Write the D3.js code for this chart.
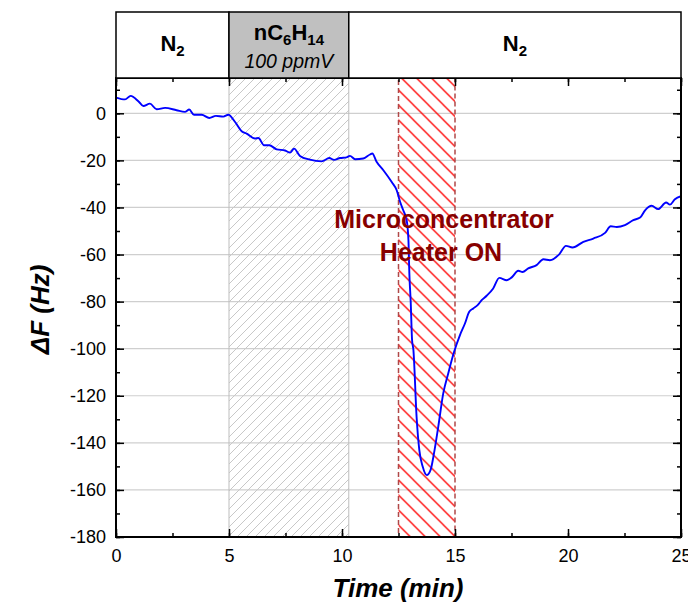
<!DOCTYPE html>
<html><head><meta charset="utf-8">
<script src="https://cdn.jsdelivr.net/npm/d3@7"></script>
<style>
body{margin:0;background:#fff;}
svg{display:block;font-family:Arial,"Liberation Sans",sans-serif;}
</style></head>
<body>
<svg id="chart" width="688" height="606"></svg>
<script>
// ---- data ----
const times = [
  0, 0.4, 0.65, 1.0, 1.21, 1.5, 1.8, 2.17, 2.68, 3.05,
  3.24, 3.45, 3.79, 4.13, 4.42, 4.75, 4.97, 5.27, 5.56, 5.78,
  6.15, 6.3, 6.55, 6.78, 7.11, 7.48, 7.7, 7.88, 8.14, 8.58,
  9.1, 9.44, 9.65, 9.91, 10.2, 10.35, 10.58, 10.94, 11.24, 11.34,
  11.53, 11.83, 12.2, 12.42, 12.57, 12.71, 12.86, 12.94, 12.98, 13.04,
  13.1, 13.16, 13.3, 13.42, 13.57, 13.75, 13.92, 14.07, 14.26, 14.48,
  14.7, 14.96, 15.22, 15.44, 15.63, 15.81, 16.0, 16.18, 16.4, 16.69,
  16.96, 17.29, 17.51, 17.8, 17.99, 18.24, 18.61, 18.91, 19.2, 19.62,
  19.91, 20.2, 20.68, 21.12, 21.64, 21.89, 22.16, 22.52, 22.89, 23.19,
  23.41, 23.7, 23.99, 24.34, 24.51, 24.73, 25.0
];
const deltaF = [
  6.7, 5.9, 7.4, 5.0, 3.1, 4.1, 1.7, 2.3, 1.3, 0.6,
  1.6, -0.6, -0.6, -2.0, -1.1, -1.4, -0.6, -3.7, -7.6, -8.6,
  -10.7, -10.5, -13.6, -13.6, -15.3, -15.8, -16.7, -15.0, -18.1, -19.7,
  -20.4, -19.0, -19.8, -19.0, -18.7, -18.1, -19.5, -19.2, -17.5, -17.1,
  -20.6, -24.2, -29.2, -32.7, -37.6, -41.2, -45.4, -53.9, -68, -80,
  -96.3, -100.6, -128.9, -143, -150.1, -153.7, -151.5, -144.5, -133.1, -119,
  -110.5, -101.3, -94.2, -89.3, -84.3, -82.9, -81.5, -79.4, -77.5, -74.4,
  -69.9, -70.9, -69.7, -66.9, -67.4, -65.9, -64.5, -62, -62.4, -59.8,
  -56.3, -57, -54.6, -53.2, -50.8, -48, -48.3, -47.5, -45.4, -44.3,
  -41.2, -39.3, -40.7, -37.9, -38.8, -36.5, -35.2
];
const xTicks = [0, 5, 10, 15, 20, 25];
const yTicks = [0, -20, -40, -60, -80, -100, -120, -140, -160, -180];
const phaseStarts = [0, 5, 10.3];
const phaseEnds = [5, 10.3, 25];
const heaterStart = 12.5, heaterEnd = 15;
const annotationLines = ["Microconcentrator", "Heater ON"];

// ---- layout ----
const svg = d3.select("#chart");
const L = 116, R = 681, T = 78, B = 537;
const x = d3.scaleLinear().domain([0, 25]).range([L, R]);
const y = d3.scaleLinear().domain([-180, 15]).range([B, T]);

const defs = svg.append("defs");
defs.append("clipPath").attr("id","clip").append("rect")
  .attr("x", L).attr("y", T).attr("width", R-L).attr("height", B-T);
const pg = defs.append("pattern").attr("id","hatchGray").attr("patternUnits","userSpaceOnUse")
  .attr("width", 9).attr("height", 9);
pg.append("path").attr("d","M-1,10 L10,-1 M-2,2 L2,-2 M7,11 L11,7")
  .attr("stroke","#c8c8c8").attr("stroke-width",1).attr("fill","none");
const pr = defs.append("pattern").attr("id","hatchRed").attr("patternUnits","userSpaceOnUse")
  .attr("width", 15).attr("height", 15).attr("x", x(heaterStart));
pr.append("path").attr("d","M-1,-1 L16,16 M-4,11 L4,19 M11,-4 L19,4")
  .attr("stroke","#ff0000").attr("stroke-width",1.3).attr("fill","none");

// gridlines
svg.append("g").selectAll("line").data(yTicks.filter(d => d > -180)).join("line")
  .attr("x1", L).attr("x2", R).attr("y1", d => y(d)).attr("y2", d => y(d))
  .attr("stroke","#cfcfcf").attr("stroke-width",1.2);

// exposure region (gray hatch)
svg.append("rect").attr("x", x(phaseStarts[1])).attr("y", T)
  .attr("width", x(phaseEnds[1]) - x(phaseStarts[1])).attr("height", B - T)
  .attr("fill","url(#hatchGray)").attr("stroke","#bdbdbd").attr("stroke-width",1);

// heater region (red hatch)
svg.append("rect").attr("x", x(heaterStart)).attr("y", T)
  .attr("width", x(heaterEnd) - x(heaterStart)).attr("height", B - T)
  .attr("fill","url(#hatchRed)").attr("stroke","#b04848").attr("stroke-width",1.5)
  .attr("stroke-dasharray","5,3");

// line
const line = d3.line().x(i => x(times[i])).y(i => y(deltaF[i])).curve(d3.curveMonotoneX);
svg.append("path").datum(d3.range(times.length))
  .attr("clip-path","url(#clip)")
  .attr("d", line).attr("fill","none").attr("stroke","#0000ff").attr("stroke-width",1.9);

// annotation
svg.append("text").attr("x", 444).attr("y", 228).attr("text-anchor","middle")
  .attr("font-size", 25).attr("font-weight","bold").attr("fill","#870000").text(annotationLines[0]);
svg.append("text").attr("x", 441).attr("y", 261).attr("text-anchor","middle")
  .attr("font-size", 25).attr("font-weight","bold").attr("fill","#870000").text(annotationLines[1]);

// axes
const fmt = d => d3.format("d")(d).replace("\u2212","-");
const xMinor = d3.range(0, 25.01, 2.5);
const yMinor = d3.range(-180, 15, 10);
const gB = svg.append("g").attr("transform",`translate(0,${B})`)
  .call(d3.axisBottom(x).tickValues(xMinor).tickSize(-4).tickFormat(""));
const gB2 = svg.append("g").attr("transform",`translate(0,${B})`)
  .call(d3.axisBottom(x).tickValues(xTicks).tickSize(-8).tickPadding(12).tickFormat(fmt));
const gT = svg.append("g").attr("transform",`translate(0,${T})`)
  .call(d3.axisTop(x).tickValues(xMinor).tickSize(-4).tickFormat(""));
const gT2 = svg.append("g").attr("transform",`translate(0,${T})`)
  .call(d3.axisTop(x).tickValues(xTicks).tickSize(-8).tickFormat(""));
const gL = svg.append("g").attr("transform",`translate(${L},0)`)
  .call(d3.axisLeft(y).tickValues(yMinor).tickSize(-4).tickFormat(""));
const gL2 = svg.append("g").attr("transform",`translate(${L},0)`)
  .call(d3.axisLeft(y).tickValues(yTicks).tickSize(-8).tickPadding(10).tickFormat(fmt));
const gR = svg.append("g").attr("transform",`translate(${R},0)`)
  .call(d3.axisRight(y).tickValues(yMinor).tickSize(-4).tickFormat(""));
const gR2 = svg.append("g").attr("transform",`translate(${R},0)`)
  .call(d3.axisRight(y).tickValues(yTicks).tickSize(-8).tickFormat(""));
[gB,gB2,gT,gT2,gL,gL2,gR,gR2].forEach(g => {
  g.select(".domain").remove();
  g.selectAll(".tick line").attr("stroke","#000").attr("stroke-width",1.5);
  g.selectAll("text").attr("font-family","Arial, 'Liberation Sans', sans-serif")
    .attr("font-size",18).attr("fill","#000");
});
svg.append("rect").attr("x", L).attr("y", T).attr("width", R-L).attr("height", B-T)
  .attr("fill","none").attr("stroke","#000").attr("stroke-width",2);

// header band
const HT = 12;
svg.append("g").selectAll("rect").data(d3.range(phaseStarts.length)).join("rect")
  .attr("x", i => x(phaseStarts[i])).attr("y", HT)
  .attr("width", i => x(phaseEnds[i]) - x(phaseStarts[i])).attr("height", T - HT)
  .attr("fill", i => i === 1 ? "#c0c0c0" : "#fff")
  .attr("stroke","#000").attr("stroke-width",1.5);

function n2(cx, by){
  const t = svg.append("text").attr("x", cx).attr("y", by).attr("text-anchor","middle")
    .attr("font-size",22).attr("font-weight","bold");
  t.append("tspan").text("N");
  t.append("tspan").attr("font-size",15).attr("dy",5).text("2");
}
n2((x(phaseStarts[0]) + x(phaseEnds[0]))/2, 51);
n2((x(phaseStarts[2]) + x(phaseEnds[2]))/2, 51);
const hx = svg.append("text").attr("x", (x(phaseStarts[1]) + x(phaseEnds[1]))/2).attr("y", 40)
  .attr("text-anchor","middle").attr("font-size",22).attr("font-weight","bold");
hx.append("tspan").text("nC");
hx.append("tspan").attr("font-size",15).attr("dy",5).text("6");
hx.append("tspan").attr("dy",-5).text("H");
hx.append("tspan").attr("font-size",15).attr("dy",5).text("14");
svg.append("text").attr("x", (x(phaseStarts[1]) + x(phaseEnds[1]))/2).attr("y", 68)
  .attr("text-anchor","middle").attr("font-size",19.5).attr("font-style","italic").text("100 ppmV");

// axis titles
svg.append("text").attr("x", 398).attr("y", 597).attr("text-anchor","middle")
  .attr("font-size",26).attr("font-weight","bold").attr("font-style","italic").text("Time (min)");
svg.append("text").attr("transform",`translate(49,${(T+B)/2 + 2}) rotate(-90)`).attr("text-anchor","middle")
  .attr("font-size",26).attr("font-weight","bold").attr("font-style","italic").text("\u0394F (Hz)");
</script>
</body></html>
